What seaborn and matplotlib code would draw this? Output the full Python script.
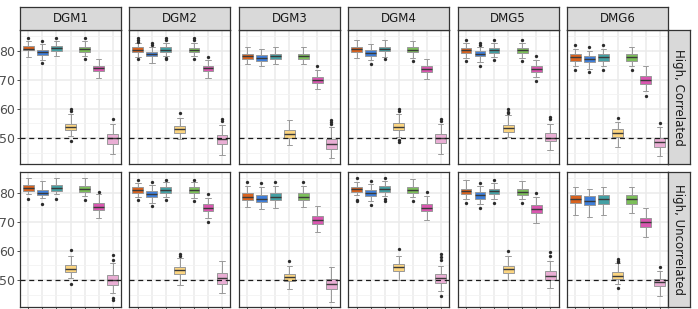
import numpy as np
import pandas as pd
import matplotlib
matplotlib.use("Agg")
import matplotlib.pyplot as plt
import seaborn as sns

sns.set_theme(style="white")
plt.rcParams['font.family'] = ['DejaVu Sans']

# ---------------- data ----------------
methods = ["M1", "M2", "M3", "M4", "M5", "M6", "M7"]
palette = ["#D8631F", "#3F7FDA", "#45A0A4", "#FBD581", "#7CBF5A", "#D957B0", "#E9AED4"]
dgm_labels = ["DGM1", "DGM2", "DGM3", "DGM4", "DMG5", "DMG6"]
row_labels = ["High, Correlated", "High, Uncorrelated"]
y_ticks = [50, 60, 70, 80]
ref_line = 50

# High, Correlated : box statistics per DGM (7 methods each)
low_c = [[77.9, 76.9, 78.0, 50.6, 78.3, 70.7, 44.4],
         [77.9, 75.9, 78.0, 49.8, 78.0, 70.6, 44.1],
         [75.5, 74.6, 75.5, 47.5, 75.5, 66.8, 43.1],
         [77.5, 76.9, 77.9, 50.3, 77.4, 70.1, 44.6],
         [77.6, 76.0, 77.8, 50.3, 77.6, 70.8, 45.8],
         [74.6, 73.8, 74.6, 46.9, 74.6, 66.0, 43.7]]
q1_c = [[80.1, 78.6, 80.0, 52.6, 79.6, 73.1, 48.1],
        [79.6, 78.2, 79.6, 51.7, 79.5, 73.0, 47.9],
        [77.1, 76.6, 77.1, 50.1, 77.2, 68.9, 46.3],
        [79.7, 78.3, 79.8, 52.9, 79.5, 72.6, 48.3],
        [79.1, 78.1, 79.1, 52.2, 79.1, 72.7, 48.9],
        [76.6, 76.1, 76.6, 50.3, 76.6, 68.6, 46.9]]
med_c = [[80.7, 79.4, 80.9, 53.7, 80.5, 74.0, 49.9],
         [80.4, 79.0, 80.4, 53.0, 80.3, 74.0, 49.7],
         [78.1, 77.5, 78.2, 51.4, 78.2, 70.0, 47.9],
         [80.6, 79.3, 80.6, 53.9, 80.4, 73.8, 50.0],
         [80.1, 79.0, 80.1, 53.3, 80.1, 73.8, 50.1],
         [77.8, 77.2, 77.8, 51.7, 77.7, 69.9, 48.5]]
q3_c = [[81.5, 80.2, 81.5, 54.8, 81.2, 74.9, 51.3],
        [81.1, 79.7, 81.2, 54.2, 81.0, 74.9, 51.0],
        [78.9, 78.5, 79.0, 52.9, 79.0, 71.0, 49.5],
        [81.3, 80.2, 81.3, 55.0, 81.2, 74.8, 51.3],
        [81.0, 79.8, 81.0, 54.5, 81.0, 74.8, 51.7],
        [78.7, 78.2, 78.7, 53.1, 78.7, 71.3, 50.1]]
high_c = [[83.3, 82.3, 83.3, 58.3, 83.3, 77.1, 54.9],
          [82.6, 81.2, 82.8, 57.0, 82.6, 76.9, 54.3],
          [81.4, 80.6, 81.4, 56.1, 81.4, 73.4, 53.8],
          [83.5, 82.3, 83.5, 58.1, 83.3, 77.2, 54.9],
          [82.8, 81.4, 82.8, 57.8, 82.8, 76.8, 54.9],
          [80.6, 80.0, 80.6, 55.5, 81.4, 74.6, 53.8]]
out_c = [[[84.4], [83.4, 75.7], [84.4], [59.4, 59.9, 49.1], [84.4, 77.1], [], [56.6]],
         [[84.3, 83.7, 83.1, 77.0], [82.6, 81.9], [84.2, 83.5, 77.5, 77.1], [58.6], [84.2, 83.5, 77.0], [77.9], [56.6, 56.0]],
         [[], [], [], [], [], [74.9], [56.3, 55.5, 54.8]],
         [[], [75.5], [77.2], [59.9, 59.3, 49.4, 48.7], [76.4], [], [56.5, 55.9]],
         [[83.8, 76.6], [82.7, 82.1, 74.9], [83.8, 76.9], [59.8, 59.1, 58.5], [83.8, 76.4], [78.0, 69.5], [57.2, 56.6]],
         [[81.8, 73.4], [81.2, 72.6], [81.8, 73.4], [56.9], [73.4], [64.5], [55.3]]]

# High, Uncorrelated
low_u = [[79.4, 78.3, 79.4, 50.7, 79.0, 71.4, 45.5],
         [78.4, 76.5, 78.4, 48.4, 78.3, 71.4, 45.5],
         [75.1, 74.3, 74.8, 46.9, 75.2, 66.4, 42.6],
         [79.1, 77.0, 79.0, 50.1, 78.5, 70.6, 46.1],
         [77.8, 76.0, 77.8, 49.9, 77.7, 69.7, 47.2],
         [72.5, 71.7, 72.5, 48.7, 72.9, 64.7, 44.4]]
q1_u = [[80.5, 79.1, 80.5, 52.6, 80.2, 73.9, 48.4],
        [80.0, 78.5, 80.0, 52.1, 79.9, 73.7, 48.7],
        [77.5, 76.8, 77.5, 49.7, 77.4, 69.4, 46.9],
        [80.2, 78.7, 80.1, 53.1, 79.9, 73.7, 49.0],
        [79.4, 77.9, 79.4, 52.5, 79.3, 73.1, 49.9],
        [76.3, 75.7, 76.2, 50.2, 76.2, 68.2, 47.8]]
med_u = [[81.5, 80.0, 81.6, 53.9, 81.3, 75.2, 50.0],
         [80.9, 79.7, 81.0, 53.3, 80.9, 74.8, 50.7],
         [78.6, 77.9, 78.6, 50.9, 78.6, 70.7, 48.7],
         [81.1, 79.9, 81.3, 54.3, 81.0, 74.8, 50.7],
         [80.5, 79.2, 80.5, 53.8, 80.3, 74.4, 51.5],
         [77.7, 77.1, 77.7, 51.4, 77.7, 69.8, 49.2]]
q3_u = [[82.5, 81.0, 82.6, 55.2, 82.2, 76.6, 51.8],
        [81.8, 80.7, 82.0, 54.6, 81.8, 76.0, 52.4],
        [79.8, 79.2, 79.8, 52.2, 79.8, 72.1, 50.3],
        [82.1, 80.9, 82.2, 55.5, 82.1, 76.0, 52.2],
        [81.4, 80.2, 81.4, 54.9, 81.4, 75.6, 53.1],
        [79.2, 78.9, 79.2, 52.6, 79.2, 71.4, 50.3]]
high_u = [[84.9, 84.0, 84.9, 58.2, 84.9, 79.4, 55.9],
          [83.4, 82.8, 83.5, 57.6, 83.5, 78.3, 56.7],
          [82.3, 82.0, 82.3, 54.7, 82.3, 75.4, 54.5],
          [83.8, 83.0, 83.9, 58.2, 84.6, 79.0, 54.7],
          [84.3, 82.4, 83.3, 58.2, 84.0, 78.6, 56.4],
          [82.0, 81.4, 82.0, 55.9, 82.0, 74.6, 53.0]]
out_u = [[[77.9], [76.1], [77.9], [60.3, 48.7], [77.4], [80.2], [58.5, 56.9, 43.8, 43.0]],
         [[84.5, 77.4], [83.8, 75.3], [84.5, 77.4], [59.1, 58.4], [84.5, 77.1], [79.4, 69.9], []],
         [[83.7], [83.4], [83.8], [56.4], [83.6], [], []],
         [[84.9, 77.5, 77.0], [84.0, 75.6], [84.9, 77.7, 77.2], [60.8], [77.1], [80.3], [59.0, 57.9, 56.9, 44.6]],
         [[76.6], [83.4, 74.6], [84.4, 76.6], [60.1], [76.3], [79.8], [59.5, 58.2]],
         [[], [], [], [57.2, 56.7, 56.1, 47.2], [], [], [54.4]]]

stats = [(low_c, q1_c, med_c, q3_c, high_c, out_c),
         (low_u, q1_u, med_u, q3_u, high_u, out_u)]

# long tables built from the arrays above
box_rows, out_rows = [], []
for r, (lo, q1, md, q3, hi, ou) in enumerate(stats):
    for d in range(len(dgm_labels)):
        for m, meth in enumerate(methods):
            for v in (lo[d][m], q1[d][m], md[d][m], q3[d][m], hi[d][m]):
                box_rows.append((r, d, meth, v))
            for v in ou[d][m]:
                out_rows.append((r, d, meth, v))
box_df = pd.DataFrame(box_rows, columns=["row", "dgm", "method", "value"])
out_df = pd.DataFrame(out_rows, columns=["row", "dgm", "method", "value"])

# ---------------- layout ----------------
W, H = 698, 309
fig = plt.figure(figsize=(W / 100, H / 100), dpi=100)
px_l0, pw, pitch = 20, 101, 109.4
rows_y = [(30, 164.5), (172, 306.5)]
strip_top = 7
strip_rx = (668, 690)
border_col = "#333333"


def fx(x):
    return x / W


def fy(y):
    return 1 - y / H


for r in range(2):
    y0, y1 = rows_y[r]
    for d in range(6):
        x0 = px_l0 + d * pitch
        ax = fig.add_axes([fx(x0), fy(y1), pw / W, (y1 - y0) / H])
        ax.set_facecolor("white")
        sub = box_df[(box_df.row == r) & (box_df.dgm == d)]
        sns.boxplot(data=sub, x="method", y="value", hue="method",
                    order=methods, hue_order=methods, palette=palette,
                    saturation=1, width=0.77, whis=(0, 100), showfliers=False,
                    linecolor="#999999", linewidth=0.7,
                    medianprops=dict(color="#3a3a3a", linewidth=1.0),
                    legend=False, ax=ax)
        osub = out_df[(out_df.row == r) & (out_df.dgm == d)]
        if len(osub):
            sns.stripplot(data=osub, x="method", y="value", order=methods,
                          color="#2b2b2b", size=2.4, jitter=False, ax=ax,
                          zorder=4)
        ax.axhline(ref_line, color="#1a1a1a", lw=0.9, ls=(0, (4, 3)), zorder=5)
        ax.set_xlim(-0.6, 6.6)
        ax.set_ylim(40.9, 87.1)
        ax.set_xlabel("")
        ax.set_ylabel("")
        ax.set_xticks(range(len(methods)))
        ax.set_xticklabels([])
        ax.set_yticks(y_ticks)
        ax.set_yticks([45, 55, 65, 75, 85], minor=True)
        ax.set_axisbelow(True)
        ax.grid(True, which="major", color="#EBEBEB", lw=1.1)
        ax.grid(True, which="minor", axis="y", color="#F2F2F2", lw=0.6)
        ax.tick_params(axis="y", which="minor", length=0)
        if d == 0:
            ax.tick_params(axis="y", which="major", length=2.2, width=0.6,
                           color=border_col, labelsize=9,
                           labelcolor="#4D4D4D", pad=1.2, left=True)
        else:
            ax.tick_params(axis="y", which="major", length=0, labelleft=False)
        if r == 1:
            ax.tick_params(axis="x", length=2.2, width=0.6, color=border_col,
                           labelbottom=False, bottom=True)
        else:
            ax.tick_params(axis="x", length=0, labelbottom=False)
        for s in ax.spines.values():
            s.set_visible(True)
            s.set_color(border_col)
            s.set_linewidth(0.9)

        if r == 0:
            sax = fig.add_axes([fx(x0), fy(y0), pw / W, (y0 - strip_top) / H])
            sax.set_facecolor("#D9D9D9")
            sax.set_xticks([])
            sax.set_yticks([])
            for s in sax.spines.values():
                s.set_color(border_col)
                s.set_linewidth(0.9)
            sax.text(0.5, 0.5, dgm_labels[d], ha="center", va="center",
                     fontsize=8.5, color="#1A1A1A", transform=sax.transAxes)

    rax = fig.add_axes([fx(strip_rx[0]), fy(y1), (strip_rx[1] - strip_rx[0]) / W,
                        (y1 - y0) / H])
    rax.set_facecolor("#D9D9D9")
    rax.set_xticks([])
    rax.set_yticks([])
    for s in rax.spines.values():
        s.set_color(border_col)
        s.set_linewidth(0.9)
    rax.text(0.5, 0.5, row_labels[r], ha="center", va="center", rotation=270,
             fontsize=8.5, color="#1A1A1A", transform=rax.transAxes)

fig.savefig("out.png", dpi=100)
